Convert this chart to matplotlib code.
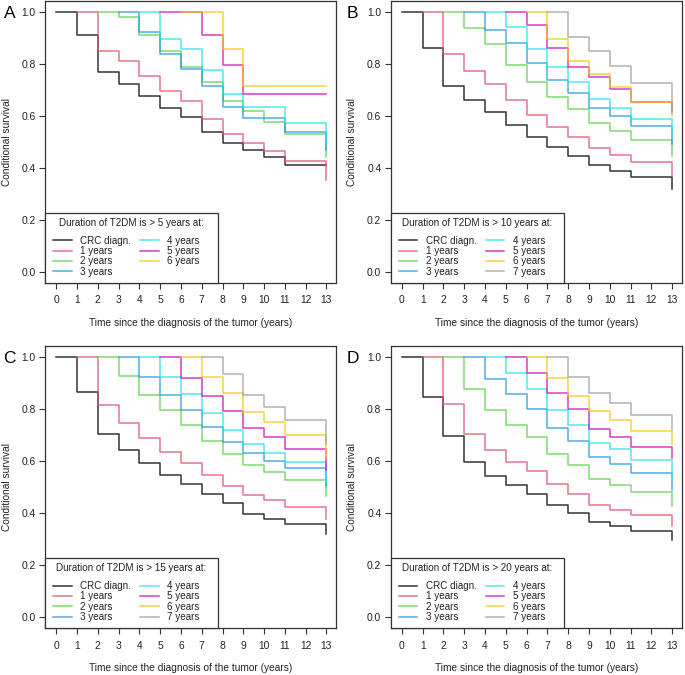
import matplotlib
matplotlib.use("Agg")
import matplotlib.pyplot as plt
from matplotlib.patches import Rectangle

plt.rcParams['font.family'] = ['Liberation Sans', 'DejaVu Sans']

# years since diagnosis (x axis), curve k starts at year k
years = list(range(14))
group_labels = ['CRC diagn.', '1 years', '2 years', '3 years',
                '4 years', '5 years', '6 years', '7 years']
line_colors = ['#000000', '#DF536B', '#61D04F', '#2297E6',
               '#28E2E5', '#CD0BBC', '#F5C710', '#9E9E9E']
panel_letters = ['A', 'B', 'C', 'D']
t2dm_years = [5, 10, 15, 20]

# conditional survival (value at year k, k+1, ..., 13)
surv_A = [
    [1.0, 0.910, 0.769, 0.722, 0.677, 0.629, 0.596, 0.538, 0.496, 0.469, 0.442, 0.410, 0.410, 0.410],
    [1.0, 0.849, 0.812, 0.754, 0.696, 0.655, 0.586, 0.528, 0.496, 0.463, 0.424, 0.424, 0.353],
    [1.0, 0.979, 0.910, 0.850, 0.786, 0.729, 0.656, 0.617, 0.577, 0.528, 0.528, 0.440],
    [1.0, 0.921, 0.837, 0.780, 0.714, 0.632, 0.590, 0.590, 0.536, 0.536, 0.470],
    [1.0, 0.894, 0.855, 0.777, 0.682, 0.632, 0.632, 0.571, 0.571, 0.500],
    [1.0, 1.0, 0.912, 0.796, 0.682, 0.682, 0.682, 0.682, 0.682],
    [1.0, 1.0, 0.858, 0.713, 0.713, 0.713, 0.713, 0.713],
]
surv_B = [
    [1.0, 0.862, 0.713, 0.660, 0.615, 0.563, 0.518, 0.479, 0.447, 0.410, 0.388, 0.363, 0.363, 0.317],
    [1.0, 0.836, 0.773, 0.721, 0.659, 0.601, 0.555, 0.518, 0.476, 0.450, 0.421, 0.421, 0.370],
    [1.0, 0.938, 0.874, 0.796, 0.729, 0.671, 0.624, 0.571, 0.541, 0.508, 0.508, 0.445],
    [1.0, 0.931, 0.878, 0.801, 0.738, 0.688, 0.628, 0.597, 0.559, 0.559, 0.490],
    [1.0, 0.942, 0.858, 0.787, 0.731, 0.665, 0.631, 0.588, 0.588, 0.538],
    [1.0, 0.947, 0.862, 0.788, 0.747, 0.704, 0.651, 0.651, 0.620],
    [1.0, 0.896, 0.809, 0.762, 0.709, 0.651, 0.651, 0.600],
    [1.0, 0.901, 0.849, 0.792, 0.727, 0.727, 0.610],
]
surv_C = [
    [1.0, 0.863, 0.705, 0.640, 0.591, 0.547, 0.512, 0.473, 0.438, 0.397, 0.378, 0.358, 0.358, 0.319],
    [1.0, 0.814, 0.745, 0.687, 0.636, 0.592, 0.545, 0.505, 0.468, 0.449, 0.422, 0.422, 0.377],
    [1.0, 0.927, 0.854, 0.794, 0.738, 0.678, 0.627, 0.583, 0.559, 0.528, 0.528, 0.467],
    [1.0, 0.922, 0.854, 0.796, 0.731, 0.674, 0.629, 0.601, 0.572, 0.572, 0.502],
    [1.0, 0.923, 0.858, 0.782, 0.719, 0.664, 0.629, 0.595, 0.595, 0.515],
    [1.0, 0.918, 0.849, 0.792, 0.727, 0.691, 0.647, 0.647, 0.567],
    [1.0, 0.922, 0.862, 0.788, 0.750, 0.701, 0.701, 0.610],
    [1.0, 0.932, 0.853, 0.808, 0.758, 0.758, 0.663],
]
surv_D = [
    [1.0, 0.847, 0.695, 0.597, 0.544, 0.506, 0.474, 0.432, 0.401, 0.365, 0.350, 0.332, 0.332, 0.295],
    [1.0, 0.819, 0.704, 0.640, 0.597, 0.562, 0.510, 0.474, 0.432, 0.413, 0.394, 0.394, 0.349],
    [1.0, 0.876, 0.794, 0.738, 0.692, 0.628, 0.585, 0.532, 0.509, 0.479, 0.479, 0.428],
    [1.0, 0.915, 0.855, 0.801, 0.728, 0.678, 0.614, 0.588, 0.555, 0.555, 0.490],
    [1.0, 0.936, 0.877, 0.796, 0.738, 0.670, 0.644, 0.605, 0.605, 0.550],
    [1.0, 0.936, 0.862, 0.800, 0.723, 0.691, 0.653, 0.653, 0.610],
    [1.0, 0.919, 0.849, 0.792, 0.758, 0.714, 0.714, 0.665],
    [1.0, 0.923, 0.862, 0.824, 0.776, 0.776, 0.720],
]
panels = [surv_A, surv_B, surv_C, surv_D]

W, H = 685, 675
fig = plt.figure(figsize=(W / 100, H / 100), dpi=100)

# axes boxes in pixels: left, top, width, height
boxes = [(45, 1, 291, 281.7), (390.7, 1, 291, 281.7),
         (45, 346, 291, 282.2), (390.7, 346, 291, 282.2)]
letter_pos = [(9.5, 13.3), (352, 13.3), (9.5, 358.5), (352.5, 358.5)]

for p, surv in enumerate(panels):
    l, t, w, h = boxes[p]
    ax = fig.add_axes([l / W, 1 - (t + h) / H, w / W, h / H])
    for k, vals in enumerate(surv):
        ax.plot(years[k:], vals, drawstyle='steps-post', color=line_colors[k],
                lw=1.1, alpha=0.8, label=group_labels[k])

    ax.set_xlim(-0.54, 13.46)
    ax.set_ylim(-0.042, 1.041)
    ax.set_xticks(years)
    ax.set_yticks([0, 0.2, 0.4, 0.6, 0.8, 1.0])
    ax.set_yticklabels(['0.0', '0.2', '0.4', '0.6', '0.8', '1.0'])
    ax.tick_params(direction='out', length=4.3, width=0.8, color='#333333',
                   labelcolor='#222222', labelsize=7.4)
    ax.tick_params(axis='x', pad=4.6)
    ax.tick_params(axis='y', pad=2.5)
    for s in ax.spines.values():
        s.set_color('#333333')
        s.set_linewidth(0.9)

    ax.set_xlabel('Time since the diagnosis of the tumor (years)', fontsize=7.3, color='#222222')
    ax.set_ylabel('Conditional survival', fontsize=7.3, color='#222222')
    ax.xaxis.set_label_coords(0.5, -0.125)
    ax.yaxis.set_label_coords(-0.115, 0.5)

    # legend box
    ax.add_patch(Rectangle((0, 0), 0.594, 0.247, transform=ax.transAxes,
                           facecolor='white', edgecolor='#333333', lw=0.9,
                           zorder=3, clip_on=False))
    ax.text(0.297, 0.213, f'Duration of T2DM is > {t2dm_years[p]} years at:',
            transform=ax.transAxes, ha='center', va='center', fontsize=7.1,
            color='#222222', zorder=4)
    leg = ax.legend(loc='lower left', bbox_to_anchor=(0.0275, 0.021), ncol=2,
                    frameon=False, fontsize=7.1, borderpad=0, borderaxespad=0,
                    handlelength=1.9, handletextpad=0.85, columnspacing=0.9,
                    labelspacing=0.04)
    leg.set_zorder(5)
    for txt in leg.get_texts():
        txt.set_color('#222222')

    fig.text(letter_pos[p][0] / W, 1 - letter_pos[p][1] / H, panel_letters[p],
             ha='center', va='center', fontsize=12.5)

fig.savefig('out.png', dpi=100)
